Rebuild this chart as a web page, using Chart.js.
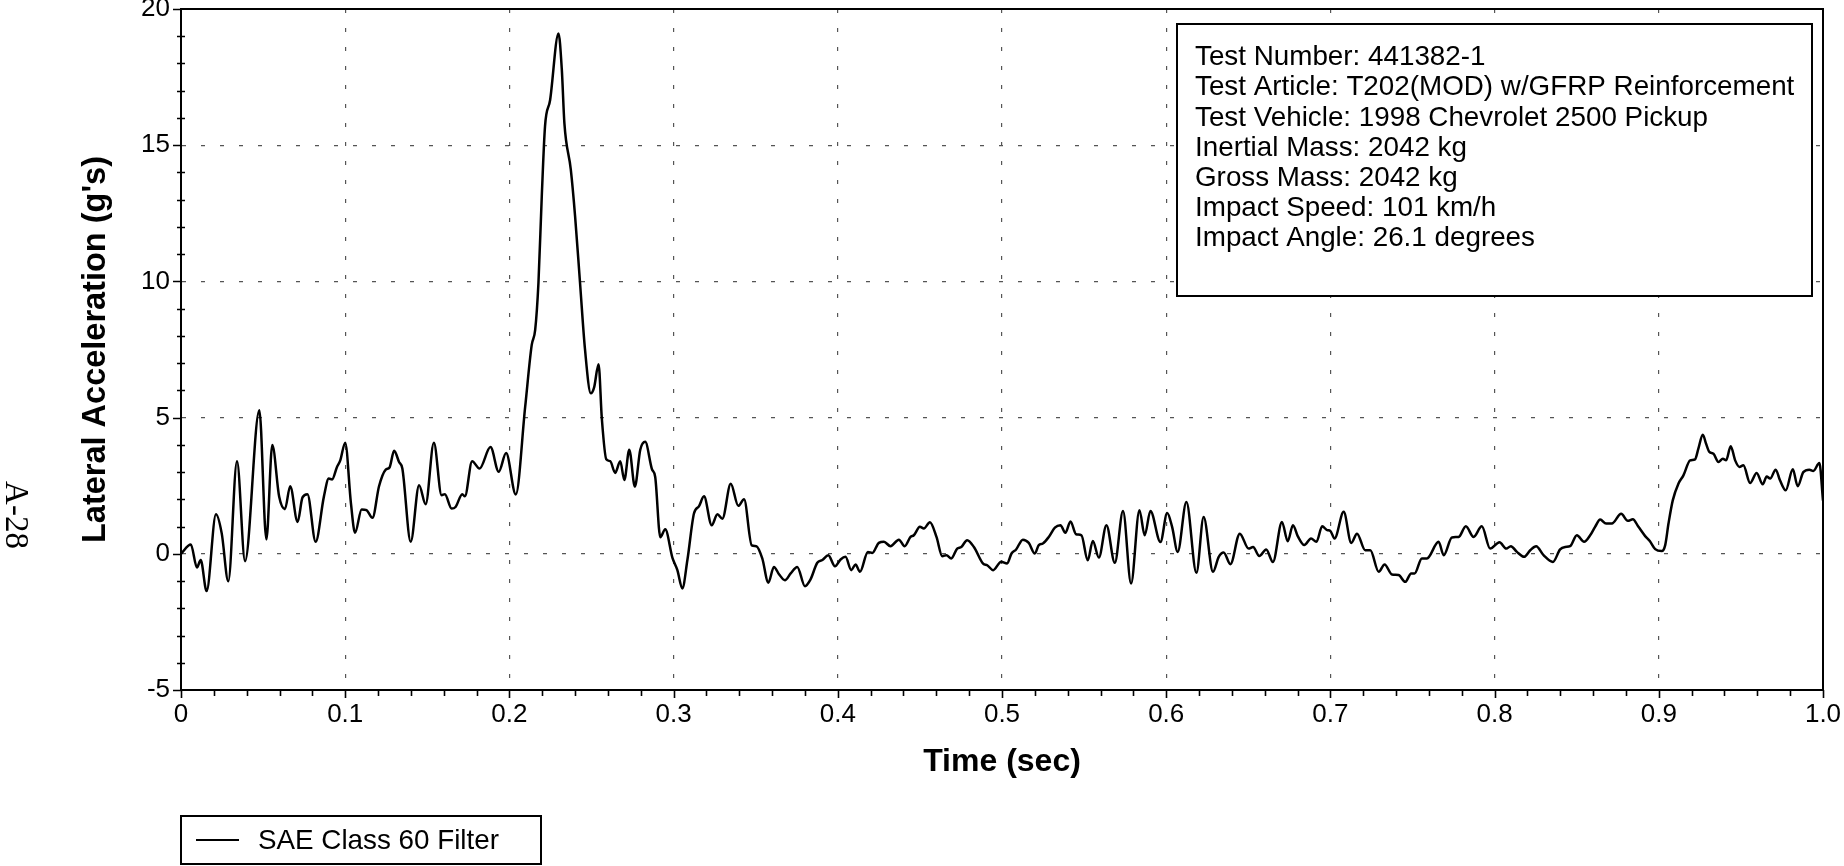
<!DOCTYPE html>
<html><head><meta charset="utf-8">
<script src="https://cdn.jsdelivr.net/npm/chart.js@4/dist/chart.umd.min.js"></script>
<style>html,body{margin:0;padding:0;background:#fff;overflow:hidden}</style>
</head><body>
<canvas id="c" width="1844" height="866"></canvas>
<script>
const timeSec = [
0.000,0.006,0.0097,0.012,0.0156,0.0213,0.0248,0.0288,0.0341,0.039,0.0477,0.052,0.0556,0.0598,0.0633,0.0665,0.071,0.074,0.077,0.082,0.087,0.090,0.092,0.095,0.097,0.100,
0.1035,0.106,0.110,0.113,0.1166,0.1206,0.1247,0.127,0.1298,0.1328,0.1348,0.1399,0.145,0.149,0.154,0.1587,0.1607,0.1648,0.1672,0.1713,0.1729,0.1773,0.1818,0.1885,0.1935,0.198,
0.2039,0.2096,0.2136,0.2157,0.2177,0.2197,0.2217,0.2248,0.2299,0.2319,0.2335,0.2374,0.240,0.243,0.246,0.2496,0.2516,0.2543,0.2563,0.259,0.2614,0.2644,0.2675,0.270,0.273,0.2764,0.2797,0.2827,0.2868,0.2888,0.2919,0.2949,
0.2993,0.3023,0.3053,0.3084,0.3124,0.3155,0.3185,0.3232,0.3267,0.3297,0.3348,0.3394,0.3429,0.3476,0.3504,0.354,0.3577,0.3611,0.3642,0.3678,0.3713,0.3753,0.380,0.3834,0.3875,0.3906,0.3942,0.3983,
0.4017,0.4047,0.4082,0.4108,0.4135,0.4183,0.421,0.425,0.4281,0.4321,0.4372,0.4407,0.4443,0.4463,0.450,0.4524,0.4561,0.4601,0.4636,0.4662,0.4691,0.4727,0.4752,0.4788,0.4829,0.4885,0.491,0.4946,0.4995,
0.5031,0.5058,0.5086,0.5127,0.5163,0.520,0.5224,0.5249,0.5285,0.5322,0.5356,0.5386,0.5417,0.5451,0.5484,0.5522,0.5553,0.559,0.5636,0.5687,0.5737,0.5786,0.5837,0.5869,0.5904,0.5965,
0.6006,0.6036,0.607,0.6123,0.6184,0.6228,0.6285,0.632,0.635,0.6391,0.6448,0.6502,0.6529,0.6567,0.6609,0.665,0.6705,0.674,0.6772,0.6801,0.6841,0.6882,0.6915,0.695,0.698,
0.700,0.7025,0.7081,0.7127,0.7162,0.7212,0.7243,0.7294,0.733,0.7375,0.7415,0.7456,0.7492,0.7513,0.7557,0.7588,0.7659,0.769,0.774,0.7781,0.7825,0.7872,0.7922,0.7973,
0.803,0.8071,0.8099,0.8136,0.818,0.8217,0.8253,0.8298,0.8355,0.8399,0.843,0.846,0.8501,0.8545,0.8582,0.8612,0.8643,0.8679,0.8714,0.8771,0.8811,0.8842,0.8876,0.8917,0.8945,0.8978,
0.9018,0.9039,0.9059,0.9085,0.912,0.915,0.9191,0.9221,0.9241,0.9268,0.9288,0.9308,0.9333,0.9363,0.939,0.941,0.9438,0.9465,0.9491,0.9515,0.9556,0.9596,0.9633,0.9657,0.9678,0.9712,0.9738,0.9773,0.9816,0.9846,0.988,0.9917,0.9941,0.9978,1.000
];
const lateralAccel = [
0.00,0.34,-0.50,-0.23,-1.37,1.45,0.75,-1.01,3.40,-0.27,5.27,0.53,3.99,2.09,1.64,2.48,1.17,2.07,2.19,0.44,2.09,2.76,2.73,3.19,3.43,4.08,
1.85,0.77,1.63,1.60,1.32,2.48,3.09,3.17,3.78,3.37,3.13,0.44,2.52,1.82,4.08,2.15,2.19,1.66,1.72,2.19,2.11,3.40,3.13,3.92,3.01,3.70,
2.18,5.39,7.67,8.22,9.96,13.1,15.7,16.66,19.1,17.8,15.8,14.1,12.4,9.96,7.53,5.89,6.11,6.96,4.96,3.47,3.40,2.97,3.40,2.71,3.82,2.47,3.82,4.11,3.11,2.82,0.61,0.90,
-0.15,-0.60,-1.27,-0.23,1.48,1.75,2.11,1.05,1.45,1.29,2.57,1.76,2.00,0.31,0.28,-0.17,-1.06,-0.48,-0.75,-0.97,-0.72,-0.48,-1.19,-0.94,-0.33,-0.23,-0.05,-0.46,
-0.21,-0.11,-0.60,-0.39,-0.66,0.07,0.03,0.40,0.44,0.28,0.52,0.28,0.62,0.68,0.99,0.93,1.16,0.62,-0.09,-0.05,-0.17,0.19,0.25,0.50,0.25,-0.36,-0.42,-0.60,-0.29,
-0.36,0.01,0.16,0.52,0.40,0.01,0.32,0.38,0.62,0.96,1.05,0.77,1.19,0.72,0.68,-0.24,0.47,-0.14,1.05,-0.33,1.57,-1.09,1.60,0.68,1.57,0.43,
1.50,0.99,0.07,1.90,-0.70,1.35,-0.66,-0.11,0.05,-0.38,0.74,0.19,0.25,-0.08,0.16,-0.30,1.17,0.46,1.05,0.65,0.32,0.56,0.44,1.01,0.87,
0.84,0.56,1.54,0.40,0.74,0.13,0.13,-0.66,-0.39,-0.76,-0.78,-1.03,-0.72,-0.72,-0.17,-0.17,0.44,-0.05,0.60,0.62,1.01,0.62,1.01,0.19,
0.42,0.19,0.28,0.07,-0.11,0.13,0.28,-0.05,-0.30,0.16,0.25,0.28,0.68,0.44,0.68,0.99,1.26,1.11,1.11,1.47,1.21,1.27,0.99,0.65,0.47,0.17,
0.10,0.32,1.11,1.96,2.58,2.88,3.43,3.47,3.86,4.37,4.04,3.74,3.67,3.37,3.49,3.43,3.95,3.43,3.19,3.25,2.60,2.97,2.55,2.84,2.76,3.09,2.70,2.33,3.10,2.48,3.00,3.09,3.04,3.33,1.95
];
const xTickLabels = ['0','0.1','0.2','0.3','0.4','0.5','0.6','0.7','0.8','0.9','1.0'];
const yTickLabels = ['-5','0','5','10','15','20'];
const seriesLabel = 'SAE Class 60 Filter';
const xTitle = 'Time (sec)';
const yTitle = "Lateral Acceleration (g's)";
const infoLines = [
 'Test Number: 441382-1',
 'Test Article: T202(MOD) w/GFRP Reinforcement',
 'Test Vehicle: 1998 Chevrolet 2500 Pickup',
 'Inertial Mass: 2042 kg',
 'Gross Mass: 2042 kg',
 'Impact Speed: 101 km/h',
 'Impact Angle: 26.1 degrees'
];
const pageLabel = 'A-28';

const SANS = "'Liberation Sans', Arial, sans-serif";
const isMajorX = v => Math.abs(v*10 - Math.round(v*10)) < 1e-6;
const isMajorY = v => Math.abs(v/5 - Math.round(v/5)) < 1e-6;

const decor = {
  id: 'decor',
  afterDraw(chart) {
    const ctx = chart.ctx, a = chart.chartArea;
    const xs = chart.scales.x, ys = chart.scales.y;
    ctx.save();
    ctx.strokeStyle = '#000';
    ctx.lineWidth = 2;
    ctx.strokeRect(a.left, a.top, a.right - a.left, a.bottom - a.top);
    ctx.lineWidth = 1.6;
    ctx.beginPath();
    xs.ticks.forEach(t => {
      const p = Math.round(xs.getPixelForValue(t.value)) + 0.5;
      const len = isMajorX(t.value) ? 8 : 6;
      ctx.moveTo(p, a.bottom); ctx.lineTo(p, a.bottom + len);
    });
    ys.ticks.forEach(t => {
      const p = Math.round(ys.getPixelForValue(t.value)) + 0.5;
      if (isMajorY(t.value)) { ctx.moveTo(a.left - 8, p); ctx.lineTo(a.left, p); }
      else { ctx.moveTo(a.left - 4, p); ctx.lineTo(a.left + 4, p); }
    });
    ctx.stroke();
    // info box
    const bx = 1177, by = 24, bw = 635, bh = 272;
    ctx.fillStyle = '#fff';
    ctx.fillRect(bx, by, bw, bh);
    ctx.lineWidth = 2;
    ctx.strokeRect(bx, by, bw, bh);
    ctx.fillStyle = '#000';
    ctx.font = "27.8px " + SANS;
    ctx.textBaseline = 'middle';
    ctx.textAlign = 'left';
    infoLines.forEach((s, i) => ctx.fillText(s, 1195, 57.5 + i * 30.2));
    // legend
    const ds = chart.data.datasets[0];
    ctx.strokeRect(181, 816, 360, 48);
    ctx.strokeStyle = ds.borderColor;
    ctx.lineWidth = 2;
    ctx.beginPath(); ctx.moveTo(196, 840); ctx.lineTo(239, 840); ctx.stroke();
    ctx.fillText(ds.label, 258, 841);
    // page label
    ctx.translate(15, 515);
    ctx.rotate(Math.PI / 2);
    ctx.font = "33px 'Liberation Serif', 'Times New Roman', serif";
    ctx.textAlign = 'center';
    ctx.fillText(pageLabel, 0, 0);
    ctx.restore();
  }
};

new Chart(document.getElementById('c'), {
  type: 'line',
  data: {
    datasets: [{
      label: seriesLabel,
      data: timeSec.map((t, i) => ({x: t, y: lateralAccel[i]})),
      borderColor: '#000',
      borderWidth: 2.5,
      pointRadius: 0,
      fill: false,
      cubicInterpolationMode: 'monotone'
    }]
  },
  options: {
    responsive: false,
    animation: false,
    devicePixelRatio: 1,
    layout: { padding: { left: 0, right: 21, top: 9, bottom: 0 } },
    plugins: { legend: { display: false }, tooltip: { enabled: false } },
    scales: {
      x: {
        type: 'linear', min: 0, max: 1,
        afterFit: s => { s.height = 176; s.paddingLeft = 0; s.paddingRight = 0; },
        ticks: {
          stepSize: 0.02, autoSkip: false, maxRotation: 0, minRotation: 0, padding: 9,
          color: '#000', font: { family: SANS, size: 26 },
          callback: v => isMajorX(v) ? xTickLabels[Math.round(v * 10)] : ''
        },
        grid: {
          drawTicks: false, lineWidth: 1.2,
          color: c => (c.tick && isMajorX(c.tick.value) && c.tick.value > 0.001 && c.tick.value < 0.999) ? '#555' : 'rgba(0,0,0,0)'
        },
        border: { display: true, color: '#000', width: 2, dash: [4, 15] },
        title: { display: true, text: xTitle, color: '#000', font: { family: SANS, size: 32, weight: 'bold' }, padding: { top: 0, bottom: 85 } }
      },
      y: {
        min: -5, max: 20,
        afterFit: s => { s.width = 181; s.paddingTop = 0; s.paddingBottom = 0; },
        ticks: {
          stepSize: 1, autoSkip: false, padding: 11,
          color: '#000', font: { family: SANS, size: 26 },
          callback: v => isMajorY(v) ? yTickLabels[Math.round((v + 5) / 5)] : ''
        },
        grid: {
          drawTicks: false, lineWidth: 1.2,
          color: c => (c.tick && isMajorY(c.tick.value) && c.tick.value > -5 && c.tick.value < 20) ? '#555' : 'rgba(0,0,0,0)'
        },
        border: { display: true, color: '#000', width: 2, dash: [4, 15] },
        title: { display: true, text: yTitle, color: '#000', font: { family: SANS, size: 32.5, weight: 'bold' }, padding: { top: 77, bottom: 0 } }
      }
    }
  },
  plugins: [decor]
});
</script>
</body></html>
